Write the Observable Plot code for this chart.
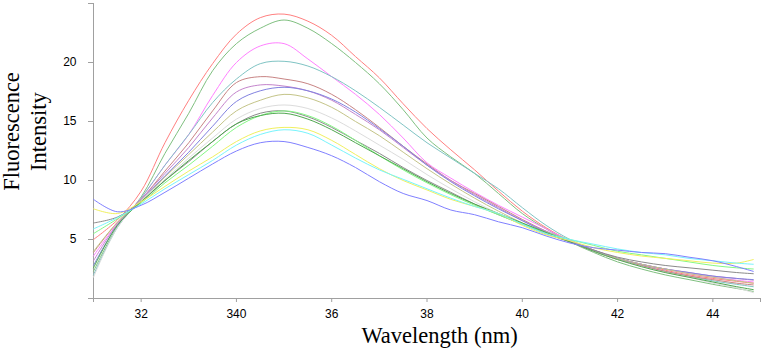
<!DOCTYPE html>
<html>
<head>
<meta charset="utf-8">
<script src="https://cdn.jsdelivr.net/npm/d3@7"></script>
<script src="https://cdn.jsdelivr.net/npm/@observablehq/plot@0.6"></script>
<style>
  body { margin: 0; background: #fff; }
  #chart svg { display: block; }
</style>
</head>
<body>
<div id="chart"></div>
<script>
// Emission wavelengths (axis units) at which each spectrum is sampled
const wavelength = [31, 31.5, 32, 32.5, 33, 33.5, 34, 34.5, 35, 35.5, 36, 36.5, 37, 37.5, 38,
                    38.5, 39, 39.5, 40, 40.5, 41, 41.5, 42, 42.5, 43, 43.5, 44, 44.5, 44.85];

// Fluorescence intensity of each spectrum
const red        = [5.0, 6.65, 9.1, 13.2, 16.8, 19.9, 22.4, 23.8, 24.1, 23.5, 22.3, 20.5, 18.7, 16.5, 14.4, 12.6, 10.9, 9.1, 7.4, 6.0, 4.9, 4.1, 3.4, 2.9, 2.4, 2.0, 1.7, 1.45, 1.3];
const green      = [2.3, 6.1, 8.6, 12.3, 15.7, 19.3, 21.6, 22.9, 23.6, 22.9, 21.6, 20.0, 18.2, 16.0, 13.6, 12.0, 10.6, 8.9, 7.2, 5.9, 4.8, 3.9, 3.1, 2.5, 2.0, 1.6, 1.2, 0.85, 0.6];
const magenta    = [3.6, 6.35, 8.5, 11.3, 13.9, 17.2, 20.0, 21.4, 21.6, 20.3, 18.8, 17.3, 15.6, 13.6, 11.5, 10.2, 9.0, 7.9, 6.9, 5.9, 4.9, 4.1, 3.4, 2.9, 2.5, 2.1, 1.8, 1.55, 1.4];
const teal       = [2.0, 6.0, 8.5, 11.3, 13.9, 16.6, 18.6, 19.9, 20.1, 19.7, 18.8, 17.6, 16.2, 14.7, 13.2, 11.9, 10.6, 9.3, 7.7, 6.2, 5.0, 4.1, 3.4, 2.8, 2.3, 1.9, 1.5, 1.2, 1.0];
const rosyBrown  = [3.9, 6.45, 8.4, 10.8, 13.2, 15.9, 18.3, 18.8, 18.6, 18.2, 17.3, 16.0, 14.5, 12.9, 11.4, 10.0, 8.9, 7.8, 6.7, 5.7, 4.8, 4.0, 3.3, 2.8, 2.3, 1.9, 1.6, 1.3, 1.15];
const orchid     = [3.2, 6.3, 8.4, 10.6, 12.8, 15.3, 17.5, 18.1, 18.0, 17.6, 16.8, 15.6, 14.3, 12.8, 11.3, 10.0, 8.8, 7.7, 6.6, 5.7, 4.9, 4.1, 3.4, 2.9, 2.5, 2.2, 1.9, 1.7, 1.55];
const slateBlue  = [2.8, 6.2, 8.3, 10.4, 12.4, 14.6, 16.7, 17.6, 17.9, 17.6, 16.9, 15.8, 14.4, 12.9, 11.3, 9.9, 8.7, 7.6, 6.6, 5.6, 4.8, 4.0, 3.4, 2.9, 2.5, 2.2, 1.9, 1.7, 1.6];
const olive      = [4.0, 6.45, 8.3, 10.3, 12.2, 14.1, 15.9, 16.8, 17.3, 17.0, 16.2, 15.0, 13.8, 12.4, 11.0, 9.7, 8.5, 7.4, 6.4, 5.5, 4.8, 4.0, 3.4, 2.9, 2.5, 2.1, 1.8, 1.5, 1.3];
const lightGray  = [1.8, 6.0, 8.3, 10.1, 11.9, 13.6, 15.2, 16.1, 16.4, 16.1, 15.3, 14.2, 13.0, 11.8, 10.5, 9.3, 8.2, 7.2, 6.3, 5.5, 4.8, 4.0, 3.3, 2.7, 2.2, 1.8, 1.3, 0.9, 0.5];
const darkGray   = [6.4, 6.9, 8.2, 10.0, 11.6, 13.3, 14.8, 15.7, 15.9, 15.4, 14.5, 13.4, 12.3, 11.1, 10.0, 9.0, 8.0, 7.1, 6.3, 5.5, 4.8, 4.1, 3.5, 3.1, 2.8, 2.6, 2.4, 2.2, 2.1];
const lightGreen = [5.5, 6.75, 8.1, 9.8, 11.3, 12.9, 14.5, 15.5, 15.9, 15.5, 14.6, 13.4, 12.1, 10.9, 9.8, 8.8, 7.9, 7.1, 6.3, 5.6, 5.0, 4.5, 4.0, 3.7, 3.4, 3.1, 2.8, 2.6, 2.5];
const darkGreen  = [2.6, 6.2, 8.2, 10.0, 11.7, 13.3, 14.8, 15.5, 15.7, 15.2, 14.3, 13.2, 12.1, 11.0, 9.9, 8.9, 8.0, 7.2, 6.4, 5.6, 4.8, 4.0, 3.3, 2.7, 2.2, 1.8, 1.4, 1.0, 0.75];
const yellow     = [7.6, 7.2, 8.2, 9.5, 10.8, 12.0, 13.3, 14.2, 14.5, 14.3, 13.4, 12.2, 11.0, 10.0, 9.2, 8.4, 7.8, 7.2, 6.2, 5.4, 4.9, 4.3, 3.9, 3.6, 3.4, 3.2, 3.0, 3.0, 3.3];
const cyan       = [5.9, 6.85, 8.0, 9.3, 10.5, 11.7, 13.0, 13.9, 14.3, 14.0, 13.0, 11.9, 10.9, 10.1, 9.3, 8.5, 7.8, 7.2, 6.3, 5.5, 5.0, 4.6, 4.2, 3.9, 3.7, 3.4, 3.2, 3.0, 2.9];
const blue       = [8.4, 7.35, 7.9, 9.0, 10.2, 11.4, 12.5, 13.2, 13.3, 12.8, 12.1, 11.1, 9.9, 8.9, 8.3, 7.5, 7.1, 6.5, 6.0, 5.3, 4.7, 4.3, 4.1, 3.9, 3.8, 3.5, 3.2, 2.7, 2.3];

// Axis ticks and their printed labels
const xTickValues = [31, 32, 34, 36, 38, 40, 42, 44, 45];
const xTickLabels = ["", "32", "340", "36", "38", "40", "42", "44", ""];
const yTickValues = [0, 5, 10, 15, 20, 25];
const yTickLabels = ["", "5", "10", "15", "20", ""];

const series = [
  {color: "#ff8080", values: red},
  {color: "#80c080", values: green},
  {color: "#ff80ff", values: magenta},
  {color: "#80c4c4", values: teal},
  {color: "#c88484", values: rosyBrown},
  {color: "#c484cc", values: orchid},
  {color: "#8282e0", values: slateBlue},
  {color: "#c4c488", values: olive},
  {color: "#dcdcdc", values: lightGray},
  {color: "#8a8a8a", values: darkGray},
  {color: "#84f884", values: lightGreen},
  {color: "#50a850", values: darkGreen},
  {color: "#f0f060", values: yellow},
  {color: "#78f4fc", values: cyan},
  {color: "#8080ff", values: blue}
];

const axisGray = "#a0a0a0";

// One line mark per spectrum, each with its own stroke colour
const lineMarks = series.map(s =>
  Plot.line(wavelength.map((w, i) => ({wavelength: w, intensity: s.values[i]})), {
    x: "wavelength", y: "intensity", stroke: s.color, strokeWidth: 1, curve: "catmull-rom"
  })
);

const chart = Plot.plot({
  width: 764,
  height: 351,
  marginLeft: 93,
  marginRight: 4,
  marginTop: 3,
  marginBottom: 53,
  style: {fontFamily: "'Liberation Sans', Arial, sans-serif", fontSize: "12px", background: "#fff", color: "#000"},
  x: {domain: [31, 45]},
  y: {domain: [0, 25]},
  marks: [
    Plot.ruleX([31], {stroke: axisGray}),
    Plot.ruleY([0], {stroke: axisGray}),
    Plot.axisX({
      ticks: xTickValues,
      tickFormat: d => xTickLabels[xTickValues.indexOf(d)],
      tickSize: 4, tickPadding: 7, stroke: axisGray, fill: "#000", label: null
    }),
    Plot.axisY({
      ticks: yTickValues,
      tickFormat: d => yTickLabels[yTickValues.indexOf(d)],
      tickSize: 5, tickPadding: 12, stroke: axisGray, fill: "#000", label: null
    }),
    ...lineMarks,
    Plot.text(["Fluorescence\nIntensity"], {
      frameAnchor: "left", rotate: -90, dx: -70, dy: -19.5,
      fontFamily: "'Liberation Serif', 'Times New Roman', serif", fontSize: 22.5,
      lineHeight: 1.2, textAnchor: "middle", lineAnchor: "middle", fill: "#000"
    }),
    Plot.text(["Wavelength (nm)"], {
      frameAnchor: "bottom", dx: 12.5, dy: 37,
      fontFamily: "'Liberation Serif', 'Times New Roman', serif", fontSize: 22.5,
      textAnchor: "middle", lineAnchor: "middle", fill: "#000"
    })
  ]
});

document.getElementById("chart").appendChild(chart);
</script>
</body>
</html>
